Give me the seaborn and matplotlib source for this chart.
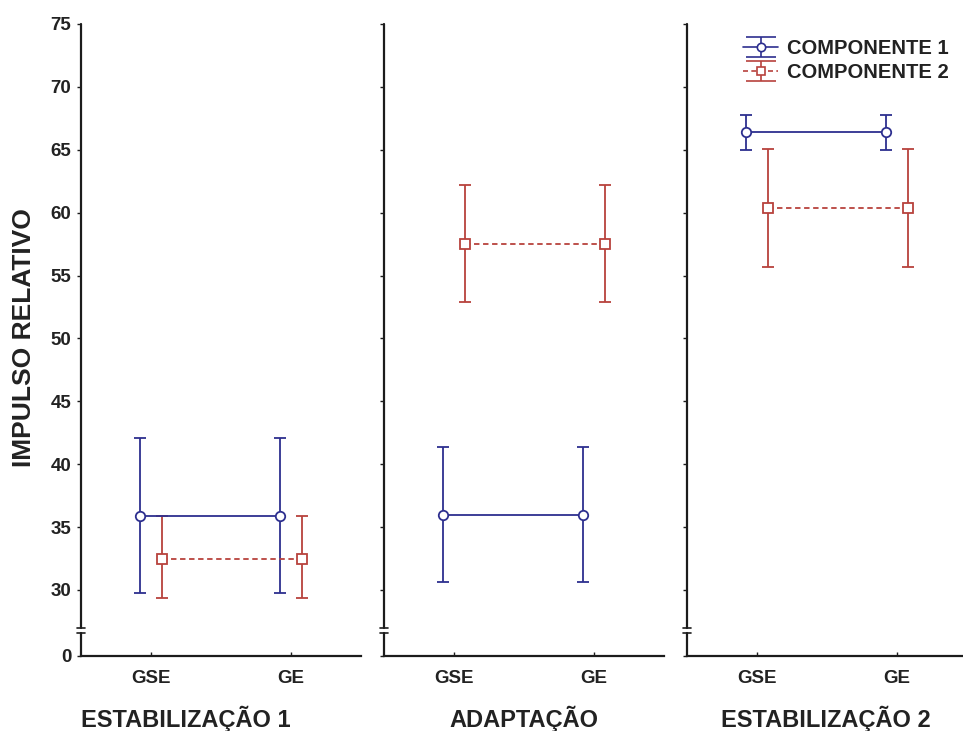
import numpy as np
import pandas as pd
import matplotlib
matplotlib.use("Agg")
import matplotlib.pyplot as plt
import seaborn as sns
from matplotlib.legend_handler import HandlerErrorbar

# ---------------- data ----------------
phases = ["ESTABILIZAÇÃO 1", "ADAPTAÇÃO", "ESTABILIZAÇÃO 2"]
groups = ["GSE", "GE"]
components = ["COMPONENTE 1", "COMPONENTE 2"]

c1_mean = [[35.9, 35.9], [36.0, 36.0], [66.4, 66.4]]
c1_low = [[29.8, 29.8], [30.6, 30.6], [65.0, 65.0]]
c1_high = [[42.1, 42.1], [41.4, 41.4], [67.8, 67.8]]

c2_mean = [[32.5, 32.5], [57.5, 57.5], [60.4, 60.4]]
c2_low = [[29.4, 29.4], [52.9, 52.9], [55.7, 55.7]]
c2_high = [[35.9, 35.9], [62.2, 62.2], [65.1, 65.1]]

ytick_values = [30, 35, 40, 45, 50, 55, 60, 65, 70, 75]
ytick_labels = ["30", "35", "40", "45", "50", "55", "60", "65", "70", "75"]
zero_label = "0"
ylabel = "IMPULSO RELATIVO"

# ---------------- style ----------------
sns.set_theme(style="white")
plt.rcParams["font.family"] = ["Liberation Sans", "DejaVu Sans"]

BLUE = "#2d2f8f"
RED = "#b8423d"
AXC = "#1c1c1c"
TXC = "#222222"

rows = []
for p, ph in enumerate(phases):
    for g, grp in enumerate(groups):
        rows.append(dict(phase=ph, group=grp, gi=g, comp=components[0],
                         mean=c1_mean[p][g], low=c1_low[p][g], high=c1_high[p][g]))
        rows.append(dict(phase=ph, group=grp, gi=g, comp=components[1],
                         mean=c2_mean[p][g], low=c2_low[p][g], high=c2_high[p][g]))
df = pd.DataFrame(rows)

fig = plt.figure(figsize=(9.63, 7.31), dpi=100)
W, H = 963.0, 731.0
y_top_px, y_bot_px = 24.0, 656.0
px_per_unit = (590.0 - 24.0) / 45.0
ytop = 75.0
ybot = 30.0 - (y_bot_px - 590.0) / px_per_unit
brk_hi = 30.0 - (628.0 - 590.0) / px_per_unit
brk_lo = 30.0 - (633.0 - 590.0) / px_per_unit

lefts = [81, 384, 687]
title_centers = [186, 524, 826]
styles = {
    components[0]: dict(color=BLUE, marker="o", ls="-", off=-0.082),
    components[1]: dict(color=RED, marker="s", ls=(0, (3, 2)), off=0.082),
}

axes = []
for p, ph in enumerate(phases):
    ax = fig.add_axes([lefts[p] / W, 1 - y_bot_px / H, 280 / W, (y_bot_px - y_top_px) / H])
    axes.append(ax)
    sub = df[df.phase == ph]
    for comp in components:
        st = styles[comp]
        s = sub[sub.comp == comp].copy()
        s["x"] = s["gi"] + st["off"]
        ax.errorbar(s["x"], s["mean"],
                    yerr=[s["mean"] - s["low"], s["high"] - s["mean"]],
                    fmt="none", ecolor=st["color"], elinewidth=1.3,
                    capsize=4.3, capthick=1.3, zorder=2, clip_on=False)
        sns.lineplot(data=s, x="x", y="mean", ax=ax, color=st["color"],
                     marker=st["marker"], markersize=6.8, markerfacecolor="white",
                     markeredgecolor=st["color"], markeredgewidth=1.3,
                     linewidth=1.3, linestyle=st["ls"], zorder=3, legend=False,
                     clip_on=False)
    ax.set_xlim(-0.5, 1.5)
    ax.set_ylim(ybot, ytop)
    ax.set_xticks([0, 1])
    ax.set_xticklabels(groups)
    ax.set_yticks(ytick_values + [ybot])
    if p == 0:
        ax.set_yticklabels(ytick_labels + [zero_label])
    else:
        ax.set_yticklabels([])
    ax.set_xlabel("")
    ax.set_ylabel("")
    for sp in ["top", "right", "left"]:
        ax.spines[sp].set_visible(False)
    ax.spines["bottom"].set_color(AXC)
    ax.spines["bottom"].set_linewidth(1.6)
    ax.tick_params(axis="y", direction="out", length=3, width=1, color=AXC,
                   labelsize=13.5, labelcolor=TXC, pad=4, left=True)
    ax.tick_params(axis="x", direction="in", length=3, width=1, color=AXC,
                   labelsize=13.5, labelcolor=TXC, pad=10, bottom=True)
    for lab in ax.get_xticklabels() + ax.get_yticklabels():
        lab.set_fontweight("bold")
    tr = ax.get_yaxis_transform()
    # broken left spine
    ax.plot([0, 0], [ybot, brk_lo], transform=tr, color=AXC, lw=1.6, clip_on=False, zorder=5)
    ax.plot([0, 0], [brk_hi, ytop], transform=tr, color=AXC, lw=1.6, clip_on=False, zorder=5)
    dx = 4.0 / 280.0
    for yb in (brk_lo, brk_hi):
        ax.plot([-dx, dx], [yb, yb], transform=tr, color=AXC, lw=1.2, clip_on=False, zorder=5)
    fig.text(title_centers[p] / W, 1 - 727 / H, ph, ha="center", va="baseline",
             fontsize=17, fontweight="bold", color=TXC)

fig.text(24 / W, 1 - 338 / H, ylabel, rotation=90, ha="center", va="center",
         fontsize=19, fontweight="bold", color=TXC)

# legend with errorbar-style handles
ax3 = axes[2]
handles = []
for comp in components:
    st = styles[comp]
    h = ax3.errorbar([np.nan], [np.nan], yerr=[[1.0], [1.0]], fmt=st["marker"],
                     linestyle=st["ls"], color=st["color"], mfc="white",
                     mec=st["color"], mew=1.2, ms=6, lw=1.2, elinewidth=1.2,
                     capsize=11, capthick=1.2)
    handles.append(h)
ax3.legend(handles, components, loc="upper left",
           bbox_to_anchor=(743 / W, 1 - 39 / H), bbox_transform=fig.transFigure,
           frameon=False, handlelength=1.75, handletextpad=0.45, labelspacing=0.25,
           borderpad=0, borderaxespad=0,
           handler_map={type(handles[0]): HandlerErrorbar(xerr_size=0.5, yerr_size=0.48)},
           prop=dict(weight="bold", size=14.5), labelcolor=TXC)

fig.savefig("out.png", dpi=100)
